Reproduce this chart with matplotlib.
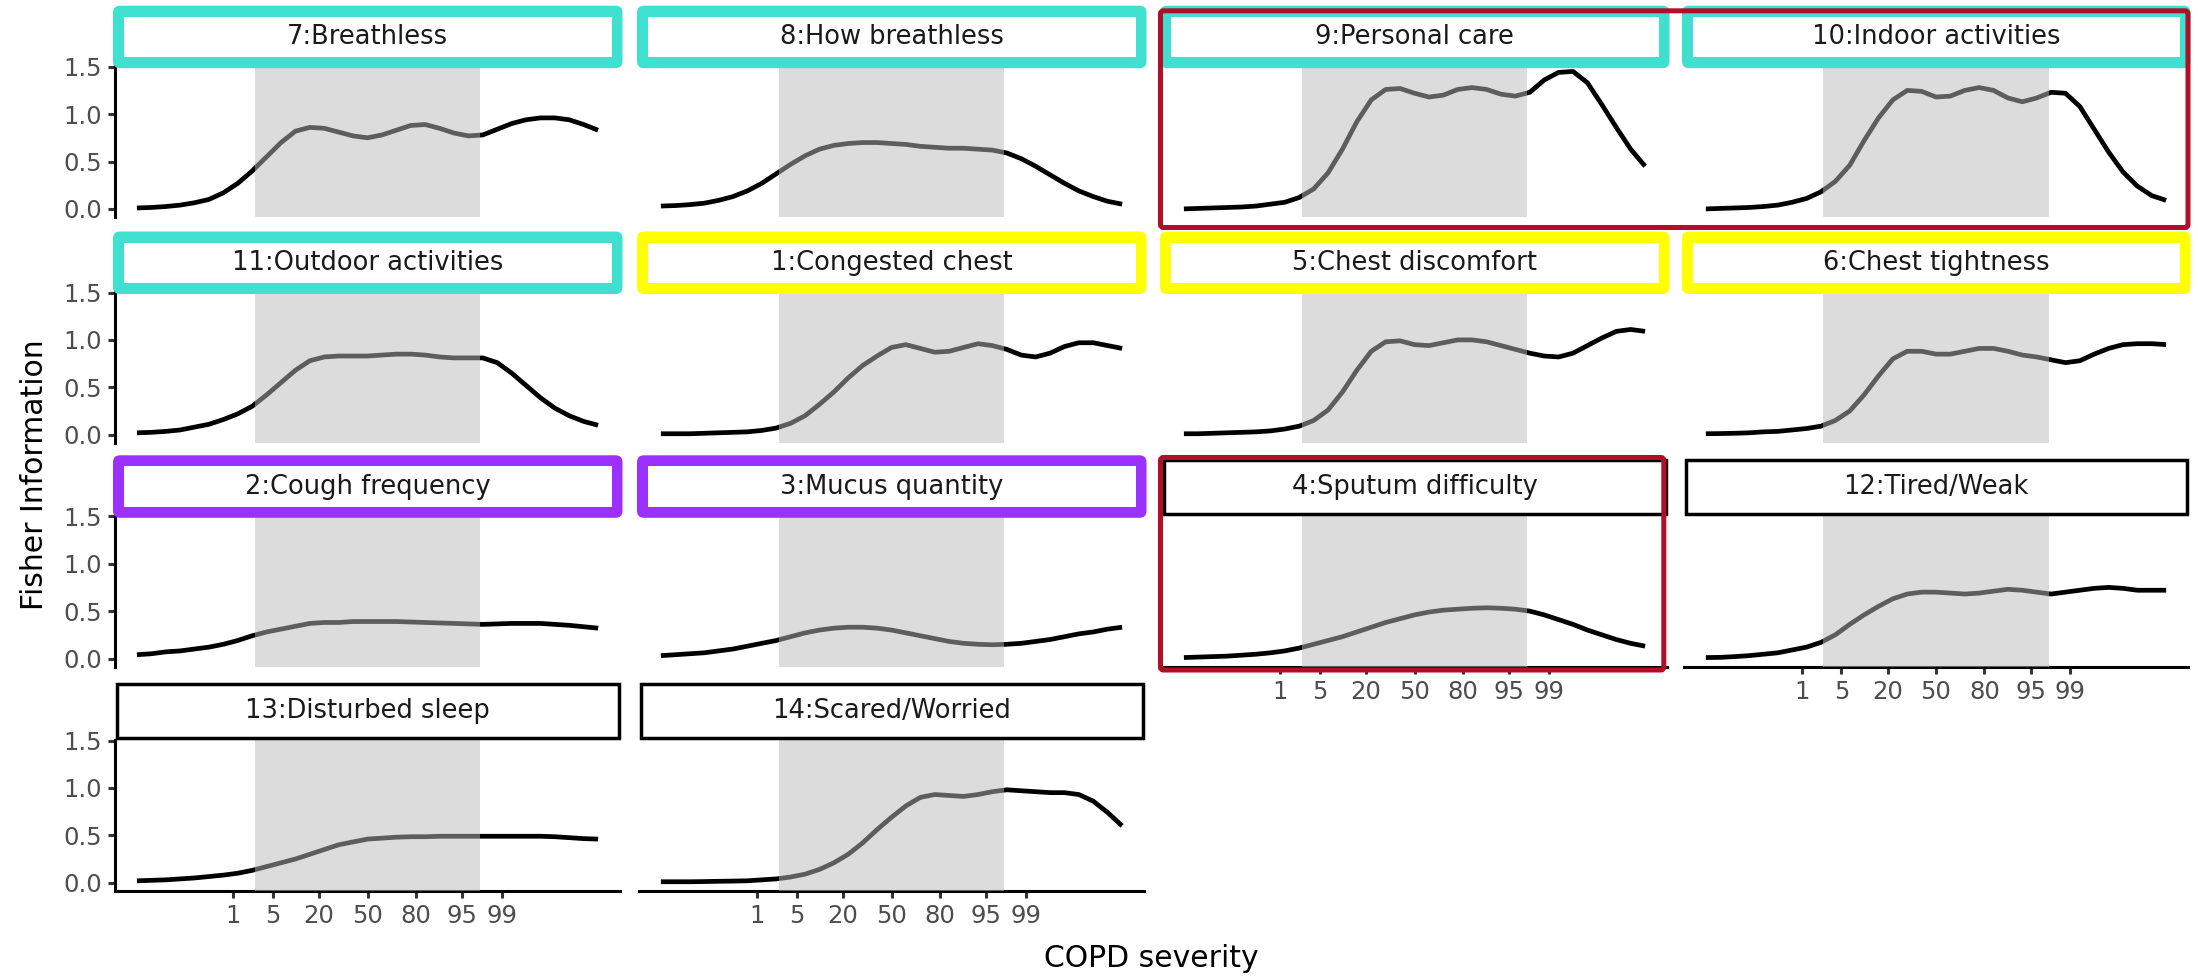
import matplotlib
matplotlib.use('Agg')
import matplotlib.pyplot as plt
from matplotlib.patches import FancyBboxPatch, Rectangle

plt.rcParams['font.family'] = ['DejaVu Sans']

# ---------------- data ----------------
theta = [-4.0, -3.75, -3.5, -3.25, -3.0, -2.75, -2.5, -2.25, -2.0, -1.75, -1.5,
         -1.25, -1.0, -0.75, -0.5, -0.25, 0.0, 0.25, 0.5, 0.75, 1.0, 1.25, 1.5,
         1.75, 2.0, 2.25, 2.5, 2.75, 3.0, 3.25, 3.5, 3.75, 4.0]

breathless = [0.01, 0.015, 0.025, 0.04, 0.065, 0.10, 0.17, 0.27, 0.40, 0.55, 0.70, 0.82, 0.86,
              0.85, 0.81, 0.77, 0.75, 0.78, 0.83, 0.88, 0.89, 0.85, 0.80, 0.77, 0.78, 0.84,
              0.90, 0.94, 0.96, 0.96, 0.94, 0.89, 0.83]
how_breathless = [0.03, 0.035, 0.045, 0.06, 0.09, 0.13, 0.19, 0.27, 0.37, 0.47, 0.56, 0.63, 0.67,
                  0.69, 0.70, 0.70, 0.69, 0.68, 0.66, 0.65, 0.64, 0.64, 0.63, 0.62, 0.59, 0.53,
                  0.45, 0.36, 0.27, 0.19, 0.13, 0.08, 0.05]
personal_care = [0.0, 0.005, 0.01, 0.015, 0.02, 0.03, 0.05, 0.07, 0.12, 0.21, 0.38, 0.63, 0.92,
                 1.15, 1.26, 1.27, 1.22, 1.18, 1.20, 1.26, 1.28, 1.26, 1.21, 1.19, 1.23, 1.36,
                 1.44, 1.45, 1.33, 1.10, 0.86, 0.63, 0.45]
indoor = [0.0, 0.005, 0.01, 0.015, 0.025, 0.04, 0.07, 0.11, 0.18, 0.29, 0.46, 0.72, 0.96,
          1.15, 1.25, 1.24, 1.18, 1.19, 1.25, 1.28, 1.25, 1.17, 1.13, 1.17, 1.23, 1.22,
          1.08, 0.84, 0.60, 0.39, 0.24, 0.14, 0.09]
outdoor = [0.02, 0.025, 0.035, 0.05, 0.08, 0.11, 0.16, 0.22, 0.30, 0.42, 0.55, 0.68, 0.78,
           0.82, 0.83, 0.83, 0.83, 0.84, 0.85, 0.85, 0.84, 0.82, 0.81, 0.81, 0.81, 0.76,
           0.65, 0.52, 0.39, 0.28, 0.20, 0.14, 0.10]
congested = [0.01, 0.01, 0.01, 0.015, 0.02, 0.025, 0.03, 0.045, 0.07, 0.12, 0.20, 0.32, 0.45,
             0.60, 0.73, 0.83, 0.92, 0.95, 0.91, 0.87, 0.88, 0.92, 0.96, 0.94, 0.90, 0.84,
             0.82, 0.86, 0.93, 0.97, 0.97, 0.94, 0.91]
discomfort = [0.01, 0.01, 0.015, 0.02, 0.025, 0.03, 0.04, 0.06, 0.09, 0.15, 0.26, 0.45, 0.68,
              0.88, 0.98, 0.99, 0.95, 0.94, 0.97, 1.00, 1.00, 0.98, 0.94, 0.90, 0.86, 0.83,
              0.82, 0.86, 0.94, 1.02, 1.09, 1.11, 1.09]
tightness = [0.01, 0.012, 0.015, 0.02, 0.03, 0.035, 0.05, 0.065, 0.09, 0.15, 0.25, 0.42, 0.62,
             0.80, 0.88, 0.88, 0.85, 0.85, 0.88, 0.91, 0.91, 0.88, 0.84, 0.82, 0.79, 0.76,
             0.78, 0.85, 0.91, 0.95, 0.96, 0.96, 0.95]
cough = [0.04, 0.05, 0.07, 0.08, 0.10, 0.12, 0.15, 0.19, 0.24, 0.28, 0.31, 0.34, 0.37,
         0.38, 0.38, 0.39, 0.39, 0.39, 0.39, 0.385, 0.38, 0.375, 0.37, 0.365, 0.36, 0.365,
         0.37, 0.37, 0.37, 0.36, 0.35, 0.335, 0.32]
mucus = [0.03, 0.04, 0.05, 0.06, 0.08, 0.10, 0.13, 0.16, 0.19, 0.23, 0.27, 0.30, 0.32,
         0.33, 0.33, 0.32, 0.30, 0.27, 0.24, 0.21, 0.18, 0.16, 0.15, 0.145, 0.15, 0.16,
         0.18, 0.20, 0.23, 0.26, 0.28, 0.31, 0.33]
sputum = [0.01, 0.015, 0.02, 0.025, 0.035, 0.045, 0.06, 0.08, 0.11, 0.15, 0.19, 0.23, 0.28,
          0.33, 0.38, 0.42, 0.46, 0.49, 0.51, 0.52, 0.53, 0.535, 0.53, 0.52, 0.50, 0.46,
          0.41, 0.36, 0.30, 0.25, 0.20, 0.16, 0.13]
tired = [0.01, 0.012, 0.02, 0.03, 0.045, 0.06, 0.09, 0.12, 0.17, 0.25, 0.36, 0.46, 0.55,
         0.63, 0.68, 0.70, 0.70, 0.69, 0.68, 0.69, 0.71, 0.73, 0.72, 0.70, 0.68, 0.70,
         0.72, 0.74, 0.75, 0.74, 0.72, 0.72, 0.72]
sleep = [0.02, 0.025, 0.03, 0.04, 0.05, 0.065, 0.08, 0.10, 0.13, 0.17, 0.21, 0.25, 0.30,
         0.35, 0.40, 0.43, 0.46, 0.47, 0.48, 0.485, 0.485, 0.49, 0.49, 0.49, 0.49, 0.49,
         0.49, 0.49, 0.49, 0.485, 0.475, 0.465, 0.46]
scared = [0.01, 0.01, 0.01, 0.012, 0.015, 0.017, 0.02, 0.03, 0.04, 0.06, 0.09, 0.14, 0.21,
          0.30, 0.42, 0.56, 0.69, 0.81, 0.90, 0.93, 0.92, 0.91, 0.93, 0.96, 0.98, 0.97,
          0.96, 0.95, 0.95, 0.93, 0.86, 0.74, 0.60]

panel_names = ['7:Breathless', '8:How breathless', '9:Personal care', '10:Indoor activities',
               '11:Outdoor activities', '1:Congested chest', '5:Chest discomfort',
               '6:Chest tightness', '2:Cough frequency', '3:Mucus quantity',
               '4:Sputum difficulty', '12:Tired/Weak', '13:Disturbed sleep', '14:Scared/Worried']
panel_values = [breathless, how_breathless, personal_care, indoor, outdoor, congested,
                discomfort, tightness, cough, mucus, sputum, tired, sleep, scared]
strip_colors = ['#40E0D0', '#40E0D0', '#40E0D0', '#40E0D0', '#40E0D0', '#FFFF00', '#FFFF00',
                '#FFFF00', '#9B30FF', '#9B30FF', None, None, None, None]

band = [-1.96, 1.96]                      # 2.5th - 97.5th percentile
xtick_pos = [-2.326, -1.645, -0.842, 0.0, 0.842, 1.645, 2.326]
xtick_labels = ['1', '5', '20', '50', '80', '95', '99']
ytick_pos = [0.0, 0.5, 1.0, 1.5]
ytick_labels = ['0.0', '0.5', '1.0', '1.5']

# ---------------- layout (pixels) ----------------
W, H = 2198, 976
fig = plt.figure(figsize=(W / 100, H / 100), dpi=100)
col_left = [115, 639, 1162, 1684]
col_right = [620, 1144, 1667, 2188]
row_y15 = [66.7, 292.5, 516.3, 740.5]
ppu = 94.8
YMIN, YMAX = -0.088, 1.51
XLIM = 4.38
tick_grey = '#4D4D4D'

for i, name in enumerate(panel_names):
    r, c = divmod(i, 4)
    L, R = col_left[c], col_right[c]
    top = row_y15[r] - (YMAX - 1.5) * ppu
    bot = row_y15[r] + (1.5 - YMIN) * ppu
    ax = fig.add_axes([L / W, 1 - bot / H, (R - L) / W, (bot - top) / H])
    ax.plot(theta, panel_values[i], color='black', lw=3.4, zorder=2,
            solid_capstyle='butt', solid_joinstyle='round')
    ax.axvspan(band[0], band[1], color=(0.73, 0.73, 0.73), alpha=0.5, lw=0, zorder=3)
    ax.set_xlim(-XLIM, XLIM)
    ax.set_ylim(YMIN, YMAX)
    for s in ['top', 'right']:
        ax.spines[s].set_visible(False)
    is_left = (c == 0)
    is_bottom = (r == 3) or (r == 2 and c >= 2)
    ax.spines['left'].set_visible(is_left)
    ax.spines['bottom'].set_visible(is_bottom)
    for s in ['left', 'bottom']:
        ax.spines[s].set_linewidth(2.2)
        ax.spines[s].set_color('black')
    ax.tick_params(axis='both', length=5.3, width=2.2, color='#333333',
                   labelcolor=tick_grey, labelsize=17.5, pad=4)
    if is_left:
        ax.set_yticks(ytick_pos)
        ax.set_yticklabels(ytick_labels)
    else:
        ax.set_yticks([])
    if is_bottom:
        ax.set_xticks(xtick_pos)
        ax.set_xticklabels(xtick_labels)
    else:
        ax.set_xticks([])
    ax.patch.set_alpha(0)

# overlay in pixel coordinates for strips and highlight boxes
ov = fig.add_axes([0, 0, 1, 1], zorder=10)
ov.set_xlim(0, W)
ov.set_ylim(H, 0)
ov.axis('off')

for i, name in enumerate(panel_names):
    r, c = divmod(i, 4)
    L, R = col_left[c], col_right[c]
    y15 = row_y15[r]
    col = strip_colors[i]
    if col is not None:
        ov.add_patch(FancyBboxPatch((L - 2, y15 - 61), (R + 2.5) - (L - 2), 62.5,
                                    boxstyle='round,pad=0,rounding_size=7',
                                    fc=col, ec='none'))
        ov.add_patch(Rectangle((L + 9, y15 - 50), (R - 8.5) - (L + 9), 40.5,
                               fc='white', ec='none'))
        ty = y15 - 29.75
    else:
        ov.add_patch(Rectangle((L + 1.5, y15 - 56.5), R - L - 3, 54,
                               fc='white', ec='black', lw=2.5))
        ty = y15 - 29.5
    ov.text((L + R) / 2, ty, name, ha='center', va='center', fontsize=18.5,
            color='#1A1A1A')

red = '#AF1028'
ov.add_patch(FancyBboxPatch((1160.5, 10.8), 2188 - 1160.5, 227.5 - 10.8,
                            boxstyle='round,pad=0,rounding_size=3',
                            fill=False, ec=red, lw=3.6))
ov.add_patch(FancyBboxPatch((1160.5, 457.5), 1663.8 - 1160.5, 670 - 457.5,
                            boxstyle='round,pad=0,rounding_size=3',
                            fill=False, ec=red, lw=3.6))

fig.text(43.3 / W, 1 - 475 / H, 'Fisher Information', rotation=90, rotation_mode='anchor',
         ha='center', va='baseline', fontsize=21.5, color='black')
fig.text(1151.5 / W, 1 - 967 / H, 'COPD severity', ha='center', va='baseline',
         fontsize=21.5, color='black')

fig.savefig('out.png', dpi=100)
